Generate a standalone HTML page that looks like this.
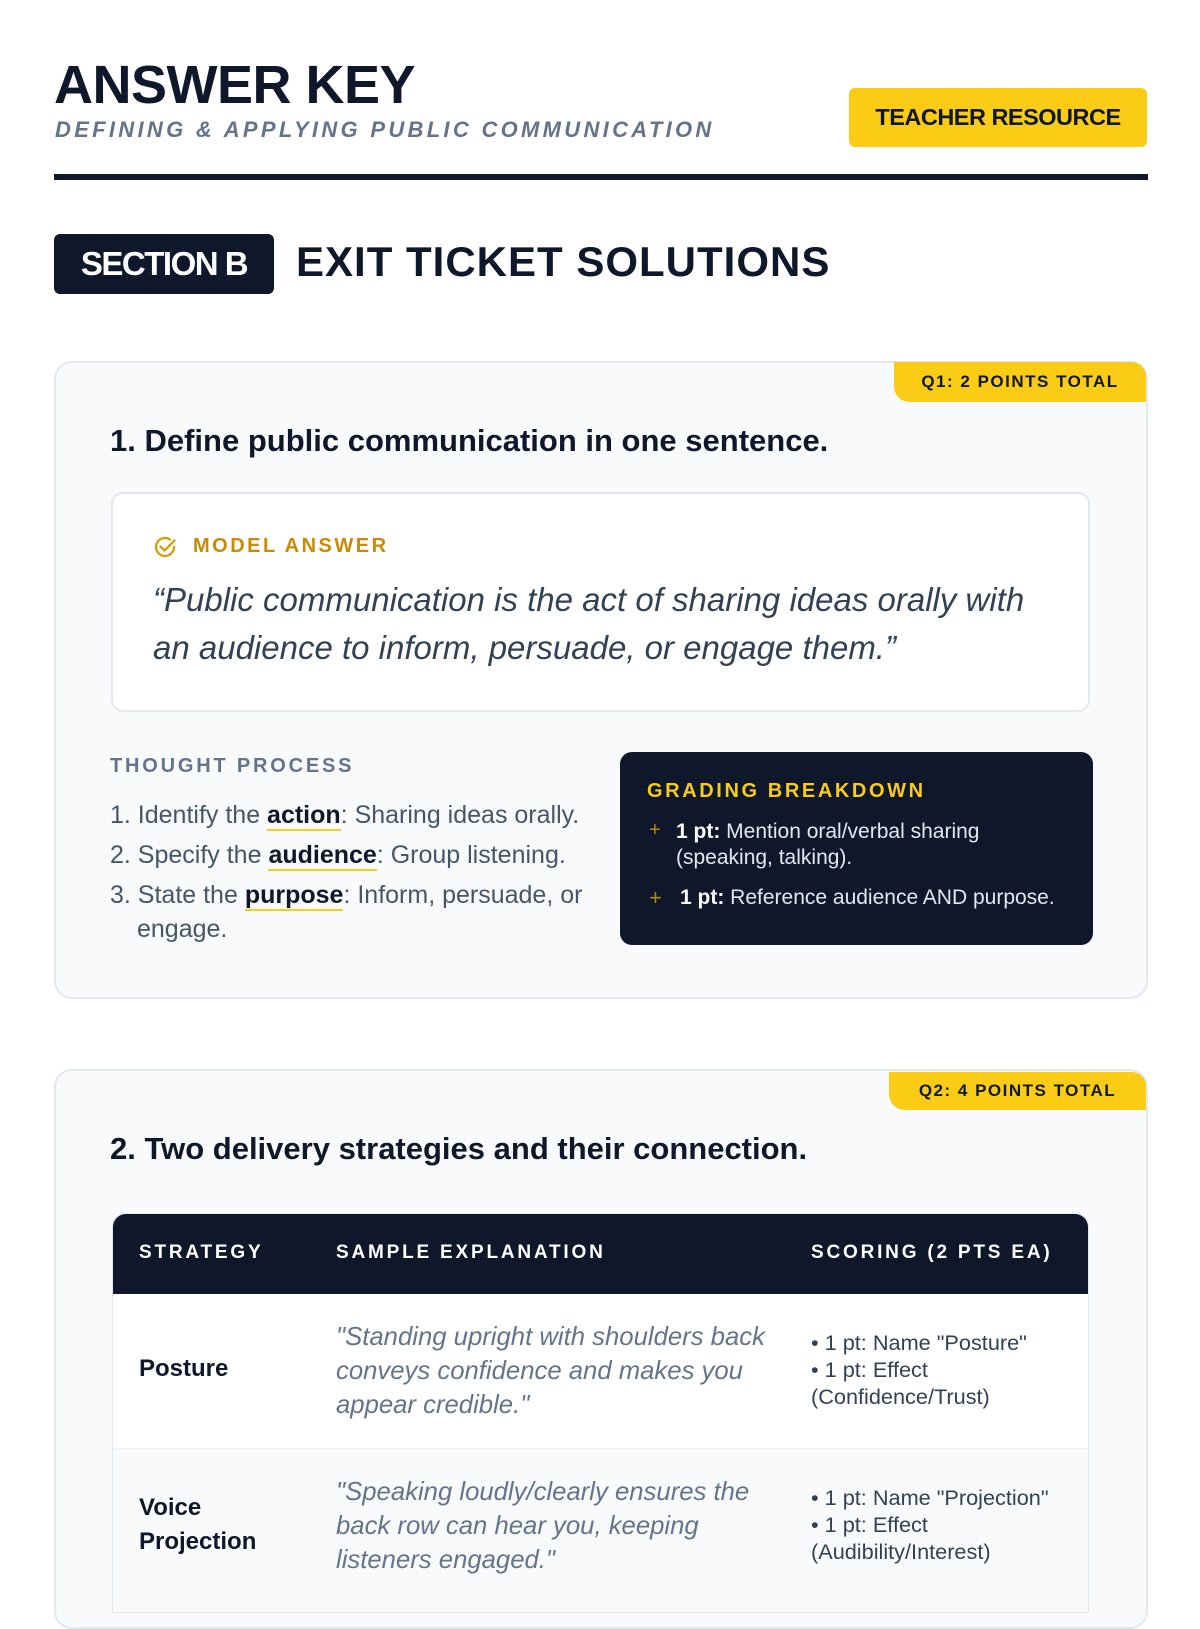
<!DOCTYPE html>
<html><head><meta charset="utf-8"><style>
*{margin:0;padding:0;box-sizing:border-box}
body{width:1200px;height:1600px;background:#fff;position:relative;overflow:hidden;font-family:"Liberation Sans",sans-serif;color:#0f172a}
.a{position:absolute;white-space:nowrap}
.card{position:absolute;left:54px;width:1094px;background:#f8fafc;border:2px solid #e2e8f0;border-radius:18px}
.tag{position:absolute;background:#facc15;color:#0f172a;font-weight:bold;font-size:17px;letter-spacing:1.5px;border-radius:0 14px 0 16px;display:flex;align-items:center;justify-content:center}
u{text-decoration:none;border-bottom:2px solid #facc15;font-weight:bold;color:#0f172a}
.tp{font-size:25px;color:#475569}
.hd{font-size:19px;font-weight:bold;letter-spacing:2.8px;color:#fff}
</style></head><body>
<div class="a" style="left:54px;top:54px;font-size:54px;font-weight:900;letter-spacing:-0.5px">ANSWER KEY</div>
<div class="a" style="left:55px;top:117px;font-size:22px;font-style:italic;font-weight:bold;letter-spacing:3.3px;color:#64748b">DEFINING &amp; APPLYING PUBLIC COMMUNICATION</div>
<div class="a" style="left:849px;top:88px;width:298px;height:59px;background:#facc15;border-radius:6px;font-size:23.5px;font-weight:bold;display:flex;align-items:center;justify-content:center;letter-spacing:-0.5px">TEACHER RESOURCE</div>
<div class="a" style="left:54px;top:174px;width:1094px;height:6px;background:#0f172a"></div>
<div class="a" style="left:54px;top:234px;width:220px;height:60px;background:#0f172a;border-radius:6px;color:#fff;font-size:33px;font-weight:900;display:flex;align-items:center;justify-content:center;letter-spacing:-1.5px">SECTION B</div>
<div class="a" style="left:296px;top:238px;font-size:42px;font-weight:bold;letter-spacing:1px">EXIT TICKET SOLUTIONS</div>

<div class="card" style="top:361px;height:638px"></div>
<div class="tag" style="left:894px;top:362px;width:252px;height:40px">Q1: 2 POINTS TOTAL</div>
<div class="a" style="left:110px;top:423px;font-size:31px;font-weight:bold">1. Define public communication in one sentence.</div>
<div class="a" style="left:111px;top:492px;width:979px;height:220px;background:#fff;border:2px solid #e2e8f0;border-radius:12px"></div>
<svg class="a" style="left:152px;top:534px" width="26" height="26" viewBox="0 0 26 26"><path d="M22 13a9 9 0 1 1-4-7.5" fill="none" stroke="#d4a012" stroke-width="2.4" stroke-linecap="round"/><path d="M8.5 12.5l4 4 10-10" fill="none" stroke="#d4a012" stroke-width="2.4" stroke-linecap="round" stroke-linejoin="round"/></svg>
<div class="a" style="left:193px;top:535px;font-size:20px;font-weight:bold;letter-spacing:2.5px;color:#ca8a04">MODEL ANSWER</div>
<div class="a" style="left:153px;top:576px;font-size:33px;font-style:italic;color:#334155;line-height:48px">“Public communication is the act of sharing ideas orally with<br>an audience to inform, persuade, or engage them.”</div>
<div class="a" style="left:110px;top:755px;font-size:20px;font-weight:bold;letter-spacing:2.8px;color:#64748b">THOUGHT PROCESS</div>
<div class="a tp" style="left:110px;top:801px">1. Identify the <u>action</u>: Sharing ideas orally.</div>
<div class="a tp" style="left:110px;top:841px">2. Specify the <u>audience</u>: Group listening.</div>
<div class="a tp" style="left:110px;top:881px">3. State the <u>purpose</u>: Inform, persuade, or</div>
<div class="a tp" style="left:137px;top:915px">engage.</div>
<div class="a" style="left:620px;top:752px;width:473px;height:193px;background:#0f172a;border-radius:12px"></div>
<div class="a" style="left:647px;top:780px;font-size:20px;font-weight:bold;letter-spacing:2.6px;color:#facc15">GRADING BREAKDOWN</div>
<div class="a" style="left:649px;top:819px;font-size:20px;color:#b58a0a">+</div>
<div class="a" style="left:676px;top:819px;font-size:21px;color:#e2e8f0;line-height:26px"><b style="color:#fff">1 pt:</b> Mention oral/verbal sharing<br>(speaking, talking).</div>
<div class="a" style="left:649px;top:885px;font-size:22px;color:#b58a0a">+</div>
<div class="a" style="left:680px;top:886px;font-size:21px;color:#e2e8f0"><b style="color:#fff">1 pt:</b> Reference audience AND purpose.</div>

<div class="card" style="top:1069px;height:560px"></div>
<div class="tag" style="left:889px;top:1072px;width:257px;height:38px">Q2: 4 POINTS TOTAL</div>
<div class="a" style="left:110px;top:1131px;font-size:31px;font-weight:bold">2. Two delivery strategies and their connection.</div>
<div class="a" style="left:112px;top:1213px;width:977px;height:400px;background:#fff;border:1px solid #e2e8f0;border-radius:14px 14px 0 0;overflow:hidden">
 <div style="height:80px;background:#0f172a"></div>
 <div style="position:absolute;top:234px;left:0;right:0;bottom:0;background:#f8fafc;border-top:1px solid #eef2f7"></div>
</div>
<div class="a hd" style="left:139px;top:1242px">STRATEGY</div>
<div class="a hd" style="left:336px;top:1242px">SAMPLE EXPLANATION</div>
<div class="a hd" style="left:811px;top:1242px">SCORING (2 PTS EA)</div>
<div class="a" style="left:139px;top:1355px;font-size:24px;font-weight:bold">Posture</div>
<div class="a" style="left:336px;top:1320px;font-size:25.7px;font-style:italic;color:#64748b;line-height:34px">"Standing upright with shoulders back<br>conveys confidence and makes you<br>appear credible."</div>
<div class="a" style="left:811px;top:1329px;font-size:21.7px;color:#334155;line-height:27px">• 1 pt: Name "Posture"<br>• 1 pt: Effect<br>(Confidence/Trust)</div>
<div class="a" style="left:139px;top:1491px;font-size:24px;font-weight:bold;line-height:34px">Voice<br>Projection</div>
<div class="a" style="left:336px;top:1475px;font-size:25.7px;font-style:italic;color:#64748b;line-height:34px">"Speaking loudly/clearly ensures the<br>back row can hear you, keeping<br>listeners engaged."</div>
<div class="a" style="left:811px;top:1484px;font-size:21.7px;color:#334155;line-height:27px">• 1 pt: Name "Projection"<br>• 1 pt: Effect<br>(Audibility/Interest)</div>
</body></html>
